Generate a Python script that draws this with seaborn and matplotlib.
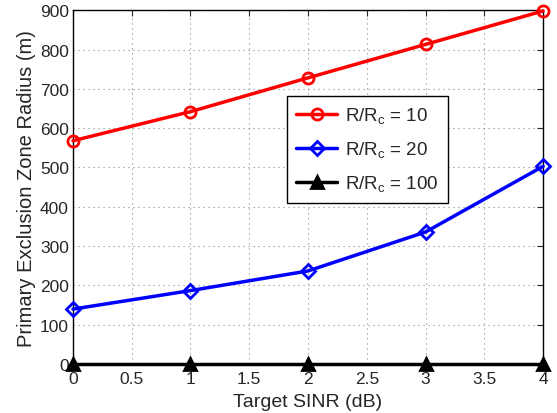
import matplotlib
matplotlib.use("Agg")
import matplotlib.pyplot as plt
import seaborn as sns
import pandas as pd

sinr_db = [0, 1, 2, 3, 4]
radius_rc10 = [568, 642, 728, 813, 898]
radius_rc20 = [140, 187, 237, 336, 503]
radius_rc100 = [0, 0, 0, 0, 0]
series_labels = [r"R/R$_{\mathrm{c}}$ = 10", r"R/R$_{\mathrm{c}}$ = 20", r"R/R$_{\mathrm{c}}$ = 100"]
x_ticks = [0, 0.5, 1, 1.5, 2, 2.5, 3, 3.5, 4]
y_ticks = [0, 100, 200, 300, 400, 500, 600, 700, 800, 900]

sns.set_style("white")
plt.rcParams["font.family"] = ["Liberation Sans", "DejaVu Sans"]
plt.rcParams["mathtext.fontset"] = "custom"
plt.rcParams["mathtext.rm"] = "Liberation Sans"
plt.rcParams["mathtext.it"] = "Liberation Sans:italic"

fig = plt.figure(figsize=(5.57, 4.14), dpi=100)
ax = fig.add_axes([0.131, 0.118, 0.844, 0.855])

styles = [
    dict(color="#ff0000", marker="o", markerfacecolor="none", markeredgecolor="#ff0000", markersize=8),
    dict(color="#0000ff", marker="D", markerfacecolor="none", markeredgecolor="#0000ff", markersize=7),
    dict(color="#000000", marker="^", markerfacecolor="#000000", markeredgecolor="#000000", markersize=8),
]
for vals, lab, st in zip([radius_rc10, radius_rc20, radius_rc100], series_labels, styles):
    df = pd.DataFrame({"x": sinr_db, "y": vals})
    sns.lineplot(data=df, x="x", y="y", ax=ax, label=lab, linewidth=2.5,
                 markeredgewidth=2, clip_on=False, zorder=3, **st)

ax.set_xlim(0, 4)
ax.set_ylim(0, 900)
ax.set_xticks(x_ticks)
ax.set_xticklabels([f"{t:g}" for t in x_ticks])
ax.set_yticks(y_ticks)
ax.grid(True, linestyle=(0, (1, 3.5)), color="#888888", linewidth=0.8)
ax.tick_params(direction="in", top=True, right=True, labelsize=12.5, length=4, width=0.8, pad=5)
ax.tick_params(axis="y", pad=3)
for s in ax.spines.values():
    s.set_color("black")
    s.set_linewidth(1)
ax.set_xlabel("Target SINR (dB)", fontsize=14, labelpad=5)
ax.set_ylabel("Primary Exclusion Zone Radius (m)", fontsize=14.5, labelpad=3)

leg = ax.legend(loc="upper left", bbox_to_anchor=(0.455, 0.758), fontsize=13.5,
                frameon=True, fancybox=False, edgecolor="black", framealpha=1,
                borderaxespad=0, handlelength=2.2, handletextpad=0.4,
                borderpad=0.5, labelspacing=0.75)
leg.get_frame().set_linewidth(1)

fig.savefig("out.png", dpi=100)
